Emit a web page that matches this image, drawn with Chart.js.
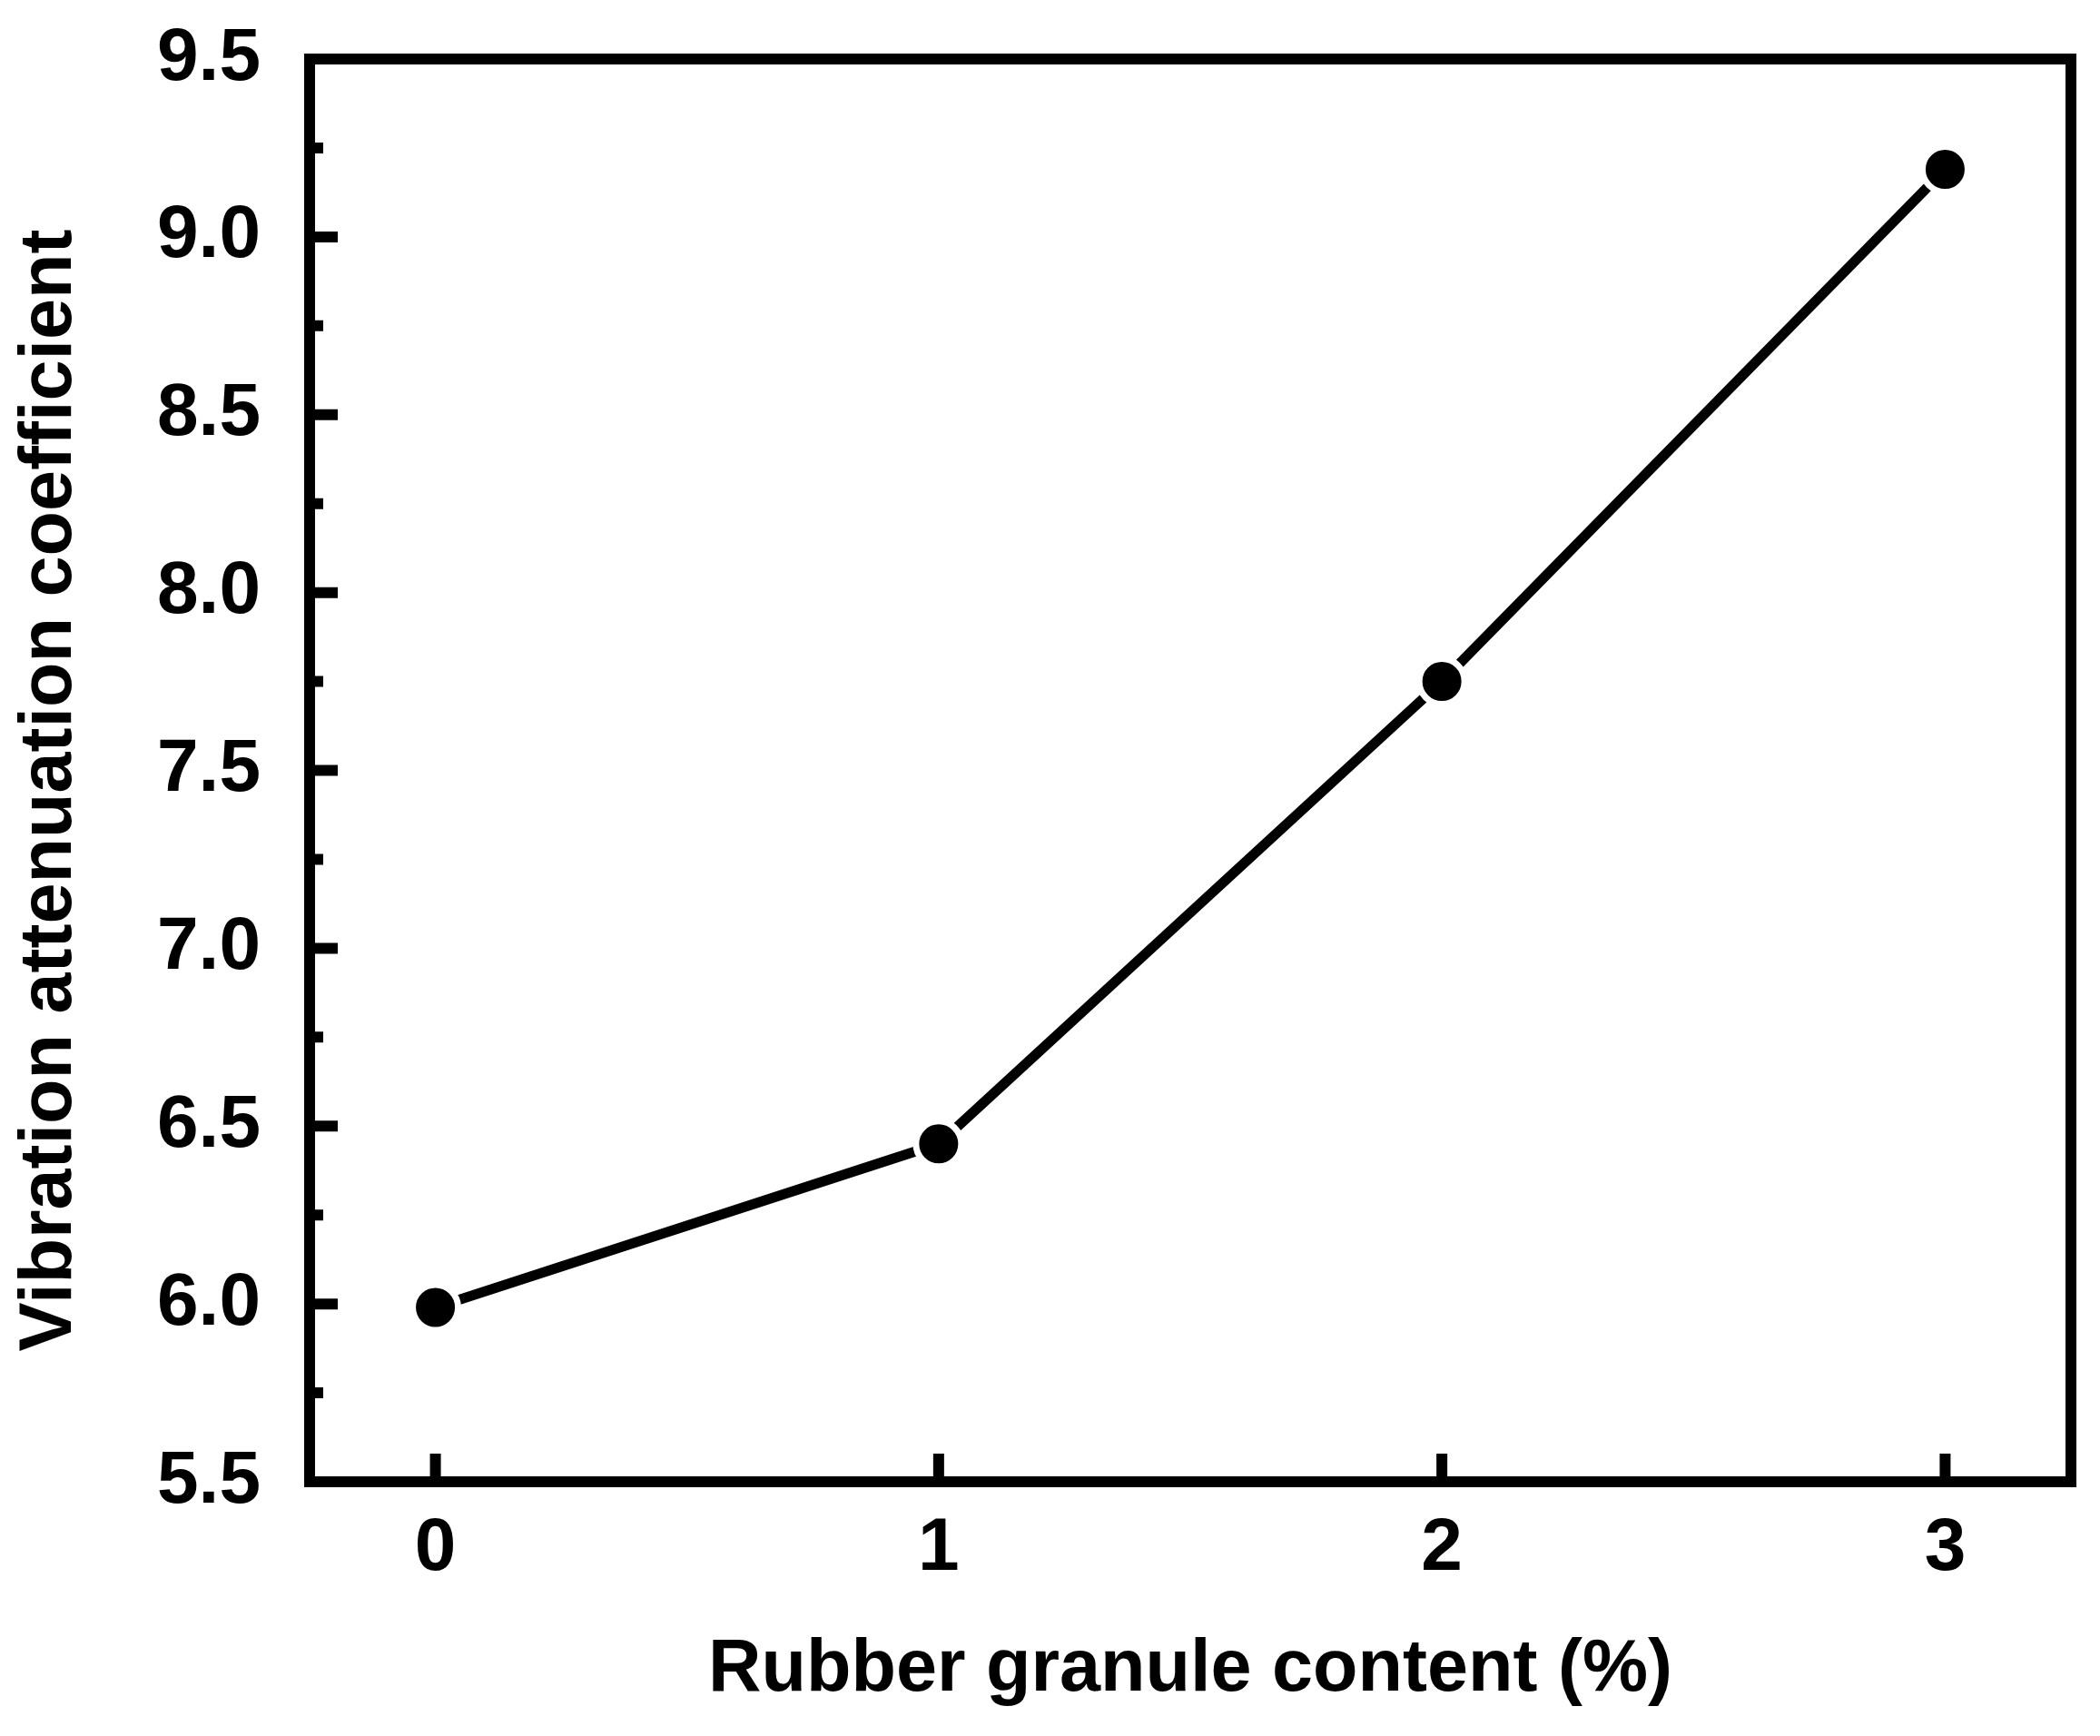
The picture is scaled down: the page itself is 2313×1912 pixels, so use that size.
<!DOCTYPE html>
<html>
<head>
<meta charset="utf-8">
<script src="https://cdn.jsdelivr.net/npm/chart.js@4"></script>
<style>
  body { margin: 0; background: #fff; }
  #wrap { width: 2313px; height: 1912px; }
</style>
</head>
<body>
<div id="wrap"><canvas id="attenuation_chart"></canvas></div>
<script>
var contents = [0, 1, 2, 3];
var coefficients = [5.99, 6.45, 7.75, 9.19];
var xTicks = [0, 1, 2, 3];
var yTicks = [5.5, 6.0, 6.5, 7.0, 7.5, 8.0, 8.5, 9.0, 9.5];
var yMinorTicks = [5.75, 6.25, 6.75, 7.25, 7.75, 8.25, 8.75, 9.25];
var yTitle = 'Vibration attenuation coefficient';
var xTitle = 'Rubber granule content (%)';

var points = [];
for (i = 0; i < contents.length; i++)
{
  points.push({x: contents[i], y: coefficients[i]});
}

var fontFamily = '"Liberation Sans", Arial, sans-serif';
Chart.defaults.color = '#000';

// frame with inward ticks, like the original plot
var framePlugin = {
  id: 'frame',
  beforeDatasetsDraw: function(chart) {
    var ctx = chart.ctx;
    var a = chart.chartArea;
    var xs = chart.scales.x;
    var ys = chart.scales.y;
    ctx.save();
    ctx.strokeStyle = '#000';
    ctx.lineWidth = 12;
    ctx.lineCap = 'butt';
    ctx.strokeRect(a.left, a.top, a.right - a.left, a.bottom - a.top);
    ctx.beginPath();
    xTicks.forEach(function(v) {
      var px = xs.getPixelForValue(v);
      ctx.moveTo(px, a.bottom);
      ctx.lineTo(px, a.bottom - 31);
    });
    yTicks.forEach(function(v) {
      var py = ys.getPixelForValue(v);
      ctx.moveTo(a.left, py);
      ctx.lineTo(a.left + 31, py);
    });
    yMinorTicks.forEach(function(v) {
      var py = ys.getPixelForValue(v);
      ctx.moveTo(a.left, py);
      ctx.lineTo(a.left + 15, py);
    });
    ctx.stroke();

    // y title sits a little below the middle of the axis in the original
    ctx.translate(56, (a.top + a.bottom) / 2 + 22);
    ctx.rotate(-Math.PI / 2);
    ctx.fillStyle = '#000';
    ctx.font = 'bold 81px ' + fontFamily;
    ctx.textAlign = 'center';
    ctx.textBaseline = 'middle';
    ctx.fillText(yTitle, 0, 0);
    ctx.restore();
  }
};

var chart = new Chart(document.getElementById('attenuation_chart').getContext('2d'), {
  type: 'scatter',
  data: {
    datasets: [{
      label: yTitle,
      data: points,
      showLine: true,
      borderColor: '#000',
      borderWidth: 11,
      backgroundColor: '#000',
      pointRadius: 25,
      pointHoverRadius: 25,
      pointBackgroundColor: '#000',
      pointBorderColor: '#fff',
      pointBorderWidth: 7,
      pointHoverBorderWidth: 7,
      clip: false
    }]
  },
  options: {
    responsive: true,
    maintainAspectRatio: false,
    devicePixelRatio: 1,
    animation: false,
    events: [],
    layout: {
      padding: {left: 0, top: 65, right: 30, bottom: 0}
    },
    plugins: {
      legend: {display: false},
      tooltip: {enabled: false}
    },
    scales: {
      x: {
        type: 'linear',
        min: -0.25,
        max: 3.25,
        grid: {display: false, drawTicks: false},
        border: {display: false},
        afterBuildTicks: function(scale) {
          scale.ticks = xTicks.map(function(v) { return {value: v}; });
        },
        afterFit: function(scale) {
          scale.height = 280;
          scale.paddingLeft = 0;
          scale.paddingRight = 0;
        },
        ticks: {
          padding: 25,
          font: {family: fontFamily, size: 82, weight: 'bold'},
          callback: function(v) { return String(v); }
        },
        title: {
          display: true,
          text: xTitle,
          font: {family: fontFamily, size: 81, weight: 'bold'},
          padding: {top: 0, bottom: 24}
        }
      },
      y: {
        type: 'linear',
        min: 5.5,
        max: 9.5,
        grid: {display: false, drawTicks: false},
        border: {display: false},
        afterBuildTicks: function(scale) {
          scale.ticks = yTicks.map(function(v) { return {value: v}; });
        },
        afterFit: function(scale) {
          scale.width = 341;
          scale.paddingTop = 0;
          scale.paddingBottom = 0;
        },
        ticks: {
          padding: 54,
          font: {family: fontFamily, size: 82, weight: 'bold'},
          callback: function(v) { return v.toFixed(1); }
        }
      }
    }
  },
  plugins: [framePlugin]
});
</script>
</body>
</html>
